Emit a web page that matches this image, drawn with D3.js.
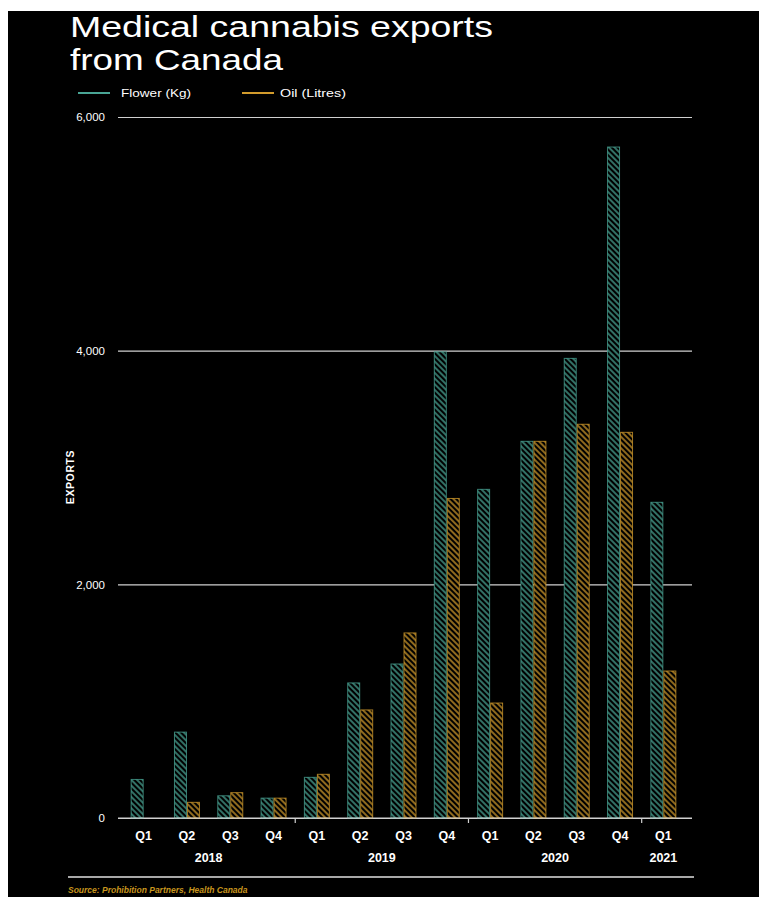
<!DOCTYPE html>
<html><head><meta charset="utf-8">
<script src="https://cdn.jsdelivr.net/npm/d3@7"></script>
<style>
html,body{margin:0;padding:0;background:#fff;}
svg text{font-family:"Liberation Sans",Arial,sans-serif;}
</style></head>
<body>
<svg id="c" width="759" height="897"></svg>
<script>
const quarters = ["Q1","Q2","Q3","Q4","Q1","Q2","Q3","Q4","Q1","Q2","Q3","Q4","Q1"];
const years = ["2018","2018","2018","2018","2019","2019","2019","2019","2020","2020","2020","2020","2021"];
const flower = [330, 735, 190, 170, 348, 1156, 1318, 3990, 2813, 3224, 3934, 5743, 2702];
const oil = [0, 134, 217, 170, 374, 925, 1584, 2735, 984, 3224, 3370, 3301, 1258];
const yTicks = [0, 2000, 4000, 6000];
const seriesNames = ["Flower (Kg)", "Oil (Litres)"];
const seriesColors = ["#49a595", "#d29b2c"];

const svg = d3.select("#c");
svg.append("rect").attr("x",8).attr("y",11).attr("width",751).attr("height",886).attr("fill","#000");

const defs = svg.append("defs");
seriesColors.forEach((c,i)=>{
  const p = defs.append("pattern").attr("id","h"+i).attr("patternUnits","userSpaceOnUse")
    .attr("width",4).attr("height",4).attr("patternTransform","rotate(-45)");
  p.append("rect").attr("width",4).attr("height",4).attr("fill","#000");
  p.append("line").attr("x1",1).attr("y1",0).attr("x2",1).attr("y2",4).attr("stroke",c).attr("stroke-width",1.6).attr("opacity",0.85);
});

// title
const title = svg.append("text").attr("fill","#fff").attr("font-size",29);
title.append("tspan").attr("x",70).attr("y",37).attr("textLength",423).attr("lengthAdjust","spacingAndGlyphs").text("Medical cannabis exports");
title.append("tspan").attr("x",70).attr("y",70).attr("textLength",213).attr("lengthAdjust","spacingAndGlyphs").text("from Canada");

// legend
const leg = svg.append("g");
[[78,121,70],[242,280,66]].forEach(([lx,tx,tl],i)=>{
  leg.append("line").attr("x1",lx).attr("x2",lx+32).attr("y1",93).attr("y2",93).attr("stroke",seriesColors[i]).attr("stroke-width",2);
  leg.append("text").attr("x",tx).attr("y",97).attr("fill","#fff").attr("font-size",11)
    .attr("textLength",tl).attr("lengthAdjust","spacingAndGlyphs").text(seriesNames[i]);
});

const keys = quarters.map((q,i)=>i);
const x = d3.scaleBand().domain(keys).range([122,685]).paddingInner(0.4).paddingOuter(0.2);
const xs = d3.scaleBand().domain([0,1]).range([0,x.bandwidth()]);
const y = d3.scaleLinear().domain([0,6000]).range([818,117]);

// grid
const yAxis = d3.axisLeft(y).tickValues(yTicks).tickFormat(d3.format(",")).tickSize(-(692-118)).tickPadding(13);
const gy = svg.append("g").attr("transform","translate(118,0)").call(yAxis);
gy.select(".domain").remove();
gy.selectAll(".tick line").attr("stroke","#d0d0d0").attr("stroke-width",1.2);
gy.selectAll(".tick text").attr("fill","#fff").attr("font-size",11.5).attr("font-family","Liberation Sans, Arial, sans-serif");

// bars
const data = keys.map(i=>[flower[i], oil[i]]);
const groups = svg.append("g").selectAll("g").data(data).join("g")
  .attr("transform",(d,i)=>`translate(${x(i)},0)`);
groups.selectAll("rect").data(d=>d.map((v,s)=>({v,s}))).join("rect")
  .filter(d=>d.v>0)
  .attr("x",d=>xs(d.s)+0.5).attr("width",xs.bandwidth()-1)
  .attr("y",d=>y(d.v)).attr("height",d=>y(0)-y(d.v))
  .attr("fill",d=>`url(#h${d.s})`).attr("stroke",d=>seriesColors[d.s]).attr("stroke-width",1).attr("stroke-opacity",0.75);

// baseline on top
svg.append("line").attr("x1",118).attr("x2",692).attr("y1",y(0)).attr("y2",y(0)).attr("stroke","#d0d0d0").attr("stroke-width",1.2);

// x axis labels
const xAxis = d3.axisBottom(x).tickFormat(i=>quarters[i]).tickSize(0).tickPadding(13);
const gx = svg.append("g").attr("transform",`translate(0,${y(0)})`).call(xAxis);
gx.select(".domain").remove();
gx.selectAll(".tick text").attr("fill","#fff").attr("font-size",12.5).attr("font-weight","bold").attr("font-family","Liberation Sans, Arial, sans-serif");

// year separators and labels
const yearList = Array.from(new Set(years));
yearList.forEach((yr,j)=>{
  const idx = keys.filter(i=>years[i]===yr);
  const first = idx[0], last = idx[idx.length-1];
  const cx = (x(first)+x(last)+x.bandwidth())/2;
  svg.append("text").attr("x",cx).attr("y",862).attr("text-anchor","middle").attr("fill","#fff")
    .attr("font-size",12.5).attr("font-weight","bold").text(yr);
  if (j>0) {
    const sx = (x(first) + x(first-1) + x.bandwidth())/2;
    svg.append("line").attr("x1",sx).attr("x2",sx).attr("y1",y(0)).attr("y2",y(0)+5).attr("stroke","#d0d0d0").attr("stroke-width",1.2);
  }
});

// y label
svg.append("text").attr("transform","translate(74,477) rotate(-90)").attr("text-anchor","middle")
  .attr("fill","#fff").attr("font-size",10.5).attr("font-weight","bold").attr("letter-spacing",0.6).text("EXPORTS");

// bottom rule & source
svg.append("line").attr("x1",68).attr("x2",694).attr("y1",877).attr("y2",877).attr("stroke","#e0e0e0").attr("stroke-width",1.5);
svg.append("text").attr("x",68).attr("y",893).attr("fill","#c8961e").attr("font-size",8.5).attr("font-style","italic")
  .attr("font-weight","bold").text("Source: Prohibition Partners, Health Canada");
</script>
</body></html>
